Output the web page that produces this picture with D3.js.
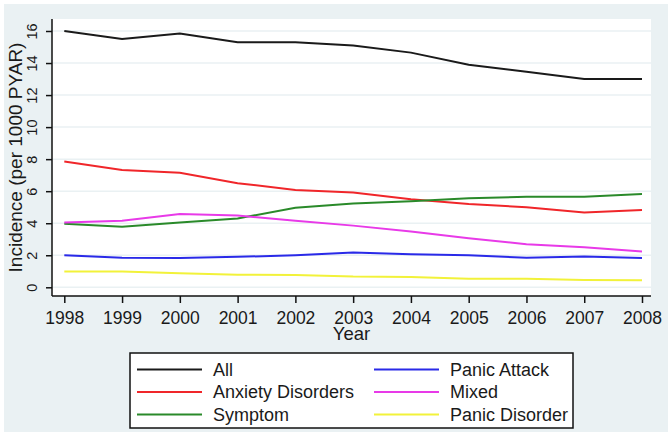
<!DOCTYPE html>
<html>
<head>
<meta charset="utf-8">
<script src="https://cdn.jsdelivr.net/npm/d3@7"></script>
<style>
  html, body { margin: 0; padding: 0; background: #ffffff; }
  svg { display: block; font-family: "Liberation Sans", Arial, sans-serif; }
</style>
</head>
<body>
<svg id="chart" width="672" height="437"></svg>
<script>
const years = [1998, 1999, 2000, 2001, 2002, 2003, 2004, 2005, 2006, 2007, 2008];
const allSeries      = [16.0, 15.5, 15.85, 15.3, 15.3, 15.1, 14.65, 13.9, 13.45, 13.0, 13.0];
const anxietySeries  = [7.85, 7.33, 7.15, 6.5, 6.08, 5.92, 5.5, 5.2, 5.0, 4.67, 4.83];
const symptomSeries  = [3.96, 3.78, 4.04, 4.3, 4.96, 5.23, 5.37, 5.56, 5.65, 5.65, 5.83];
const panicAttack    = [2.0, 1.85, 1.83, 1.9, 2.0, 2.17, 2.06, 2.0, 1.85, 1.92, 1.83];
const mixedSeries    = [4.04, 4.15, 4.58, 4.48, 4.15, 3.85, 3.48, 3.06, 2.69, 2.5, 2.23];
const panicDisorder  = [0.98, 0.98, 0.87, 0.79, 0.77, 0.67, 0.65, 0.54, 0.54, 0.46, 0.44];
const yTicks = [0, 2, 4, 6, 8, 10, 12, 14, 16];
const seriesNames = ["All", "Anxiety Disorders", "Symptom", "Panic Attack", "Mixed", "Panic Disorder"];
const seriesColors = ["#1a1a1a", "#f0262a", "#2a8a2a", "#2a2ae8", "#e83ae8", "#f2f23a"];
const seriesValues = [allSeries, anxietySeries, symptomSeries, panicAttack, mixedSeries, panicDisorder];

const svg = d3.select("#chart");
// outer background
svg.append("rect").attr("x", 4).attr("y", 4).attr("width", 664).attr("height", 428).attr("fill", "#eaf1f3");
// plot area
const plot = { left: 52, right: 651, top: 19, bottom: 296 };
svg.append("rect").attr("x", plot.left).attr("y", plot.top)
  .attr("width", plot.right - plot.left).attr("height", plot.bottom - plot.top).attr("fill", "#ffffff");

const x = d3.scaleLinear().domain([1998, 2008]).range([64.3, 642]);
const y = d3.scaleLinear().domain([0, 16]).range([287.3, 31]);

// gridlines
svg.append("g").selectAll("line").data(yTicks).join("line")
  .attr("x1", plot.left).attr("x2", plot.right)
  .attr("y1", d => y(d)).attr("y2", d => y(d))
  .attr("stroke", "#eaf1f3").attr("stroke-width", 1.5);

// lines
const line = d3.line().x((d, i) => x(years[i])).y(d => y(d));
seriesValues.forEach((vals, k) => {
  svg.append("path").datum(vals).attr("d", line)
    .attr("fill", "none").attr("stroke", seriesColors[k]).attr("stroke-width", 2);
});

// y axis
const yAxis = svg.append("g").attr("transform", `translate(${plot.left},0)`)
  .call(d3.axisLeft(y).tickValues(yTicks).tickSize(6).tickSizeOuter(0));
yAxis.select(".domain").attr("d", `M0,${plot.top}V${plot.bottom}`).attr("stroke", "#111").attr("stroke-width", 1.5);
yAxis.selectAll(".tick line").attr("stroke", "#111").attr("stroke-width", 1.5);
yAxis.selectAll(".tick text")
  .attr("x", 0).attr("dy", 0).attr("y", 0)
  .attr("transform", "translate(-15,0) rotate(-90)")
  .attr("text-anchor", "middle")
  .style("font-size", "14.5px").attr("fill", "#1a1a1a");

// x axis
const xAxis = svg.append("g").attr("transform", `translate(0,${plot.bottom})`)
  .call(d3.axisBottom(x).tickValues(years).tickFormat(d3.format("d")).tickSize(7).tickSizeOuter(0));
xAxis.select(".domain").attr("d", `M${plot.left},0H${plot.right}`).attr("stroke", "#111").attr("stroke-width", 1.5);
xAxis.selectAll(".tick line").attr("stroke", "#111").attr("stroke-width", 1.5);
xAxis.selectAll(".tick text").attr("y", 28).attr("dy", 0)
  .style("font-size", "17.5px").attr("fill", "#1a1a1a");

// axis titles
svg.append("text").attr("x", (plot.left + plot.right) / 2).attr("y", 340)
  .attr("text-anchor", "middle").style("font-size", "18.5px").attr("fill", "#1a1a1a").text("Year");
svg.append("text").attr("transform", `translate(22,${(plot.top + plot.bottom) / 2}) rotate(-90)`)
  .attr("text-anchor", "middle").style("font-size", "19px").attr("fill", "#1a1a1a")
  .text("Incidence (per 1000 PYAR)");

// legend
const legend = svg.append("g");
legend.append("rect").attr("x", 130).attr("y", 353).attr("width", 443).attr("height", 75)
  .attr("fill", "#ffffff").attr("stroke", "#111").attr("stroke-width", 1.5);
const legendOrder = [0, 3, 1, 4, 2, 5];
legendOrder.forEach((k, j) => {
  const col = j % 2, row = Math.floor(j / 2);
  const lx = col === 0 ? 137 : 374;
  const ly = 369.5 + row * 22.5;
  legend.append("line").attr("x1", lx).attr("x2", lx + 65).attr("y1", ly).attr("y2", ly)
    .attr("stroke", seriesColors[k]).attr("stroke-width", 2);
  legend.append("text").attr("x", lx + 76).attr("y", ly + 5.5 + 0.5)
    .style("font-size", "18px").attr("fill", "#1a1a1a").text(seriesNames[k]);
});
</script>
</body>
</html>
